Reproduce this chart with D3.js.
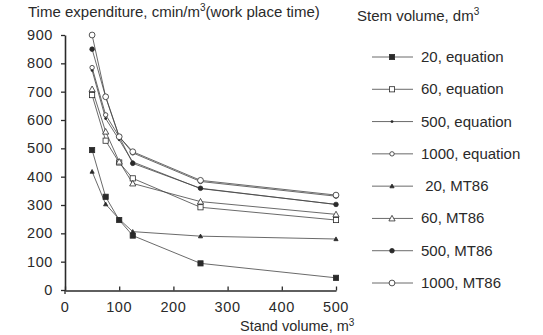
<!DOCTYPE html>
<html lang="en">
<head>
<meta charset="utf-8">
<script src="https://cdn.jsdelivr.net/npm/d3@7"></script>
<style>
  body { margin: 0; background: #fff; }
  text { font-family: "Liberation Sans", Arial, sans-serif; fill: #2a2a2a; }
</style>
</head>
<body>
<svg id="chart" width="543" height="335"></svg>
<script>
// stand volume, m3
var standVolume = [50, 75, 100, 125, 250, 500];

// time expenditure, cmin/m3, per stem volume (dm3)
var eq20    = [494, 329, 247, 192, 94, 43];
var eq60    = [688, 527, 450, 394, 292, 247];
var eq500   = [775, 605, 530, 452, 358, 302];
var eq1000  = [785, 618, 541, 484, 383, 331];
var mt20    = [418, 303, 250, 206, 190, 180];
var mt60    = [709, 559, 453, 376, 312, 267];
var mt500   = [850, 682, 541, 447, 359, 302];
var mt1000  = [900, 682, 541, 488, 387, 335];

var seriesNames = ["20, equation", "60, equation", "500, equation", "1000, equation",
                   " 20, MT86", "60, MT86", "500, MT86", "1000, MT86"];
var seriesValues = [eq20, eq60, eq500, eq1000, mt20, mt60, mt500, mt1000];
var seriesSymbols = ["sqFill", "sqOpen", "dot", "circSmall", "triFill", "triOpen", "circFill", "circOpen"];

var yTicks = [0, 100, 200, 300, 400, 500, 600, 700, 800, 900];
var xTicks = [0, 100, 200, 300, 400, 500];

var svg = d3.select("#chart");
var ink = "#2a2a2a";
var lineInk = "#444";

var x = d3.scaleLinear().domain([0, 500]).range([65, 336]);
var y = d3.scaleLinear().domain([0, 900]).range([290, 35]);

// axes
var yAxis = svg.append("g")
    .attr("transform", "translate(" + x(0) + ",0)")
    .call(d3.axisLeft(y).tickValues(yTicks).tickSize(4).tickPadding(8).tickSizeOuter(0));
var xAxis = svg.append("g")
    .attr("transform", "translate(0," + (y(0) + 0.5) + ")")
    .call(d3.axisTop(x).tickValues(xTicks).tickSize(4).tickFormat(function(){ return ""; }).tickSizeOuter(0));

[yAxis, xAxis].forEach(function(a) {
    a.selectAll("path").attr("stroke", ink).attr("stroke-width", 1.6);
    a.selectAll("line").attr("stroke", ink).attr("stroke-width", 1.3);
});
yAxis.selectAll("text").attr("font-size", 14.5).style("fill", ink)
    .style("font-family", "'Liberation Sans', Arial, sans-serif").attr("letter-spacing", 0.6);

// y axis sticks out a little below the x axis
svg.append("line").attr("x1", x(0)).attr("x2", x(0)).attr("y1", y(0)).attr("y2", y(0) + 4)
    .attr("stroke", ink).attr("stroke-width", 1.3);

svg.append("g").selectAll("text").data(xTicks).enter().append("text")
    .attr("x", function(d){ return x(d); })
    .attr("y", 312)
    .attr("text-anchor", "middle")
    .attr("font-size", 14.5)
    .attr("letter-spacing", 0.6)
    .text(function(d){ return d; });

// titles
var yt = svg.append("text").attr("x", 28).attr("y", 17).attr("font-size", 15);
yt.append("tspan").text("Time expenditure, cmin/m");
yt.append("tspan").attr("dy", -6).attr("font-size", 10).text("3");
yt.append("tspan").attr("dy", 6).text("(work place time)");

var xt = svg.append("text").attr("x", 240).attr("y", 331).attr("font-size", 14.5);
xt.append("tspan").text("Stand volume, m");
xt.append("tspan").attr("dy", -5).attr("font-size", 10).text("3");

var lt = svg.append("text").attr("x", 357).attr("y", 21).attr("font-size", 15);
lt.append("tspan").text("Stem volume, dm");
lt.append("tspan").attr("dy", -6).attr("font-size", 10).text("3");

// markers
function drawSymbol(g, kind, cx, cy) {
    if (kind === "sqFill" || kind === "sqOpen") {
        g.append("rect").attr("x", cx - 2.6).attr("y", cy - 2.6).attr("width", 5.2).attr("height", 5.2)
            .attr("fill", kind === "sqFill" ? ink : "#fff").attr("stroke", ink).attr("stroke-width", 0.8);
    } else if (kind === "triFill" || kind === "triOpen") {
        var s = kind === "triFill" ? 2.1 : 3.1;
        g.append("path")
            .attr("d", "M" + cx + "," + (cy - s) + "L" + (cx + s) + "," + (cy + s * 0.8) + "L" + (cx - s) + "," + (cy + s * 0.8) + "Z")
            .attr("fill", kind === "triFill" ? ink : "#fff").attr("stroke", ink).attr("stroke-width", 0.8);
    } else if (kind === "dot") {
        g.append("circle").attr("cx", cx).attr("cy", cy).attr("r", 1.4).attr("fill", ink);
    } else if (kind === "circSmall") {
        g.append("circle").attr("cx", cx).attr("cy", cy).attr("r", 2.2)
            .attr("fill", "#fff").attr("stroke", ink).attr("stroke-width", 0.8);
    } else if (kind === "circFill") {
        g.append("circle").attr("cx", cx).attr("cy", cy).attr("r", 2.3)
            .attr("fill", ink).attr("stroke", ink).attr("stroke-width", 0.8);
    } else {
        g.append("circle").attr("cx", cx).attr("cy", cy).attr("r", 2.9)
            .attr("fill", "#fff").attr("stroke", ink).attr("stroke-width", 0.8);
    }
}

var line = d3.line()
    .x(function(d, i){ return x(standVolume[i]); })
    .y(function(d){ return y(d); });

var plot = svg.append("g");
seriesValues.forEach(function(vals) {
    plot.append("path").attr("d", line(vals)).attr("fill", "none")
        .attr("stroke", lineInk).attr("stroke-width", 0.8);
});
seriesValues.forEach(function(vals, k) {
    vals.forEach(function(v, i) {
        drawSymbol(plot, seriesSymbols[k], x(standVolume[i]), y(v));
    });
});

// legend
var ly = d3.scaleLinear().domain([0, 7]).range([57, 283]);
var leg = svg.append("g");
seriesNames.forEach(function(name, k) {
    var yy = ly(k);
    leg.append("line").attr("x1", 372).attr("x2", 413).attr("y1", yy).attr("y2", yy)
        .attr("stroke", lineInk).attr("stroke-width", 0.8);
    drawSymbol(leg, seriesSymbols[k], 392, yy);
    leg.append("text").attr("x", 421).attr("y", yy + 5).attr("font-size", 15)
        .attr("xml:space", "preserve").text(name);
});
</script>
</body>
</html>
